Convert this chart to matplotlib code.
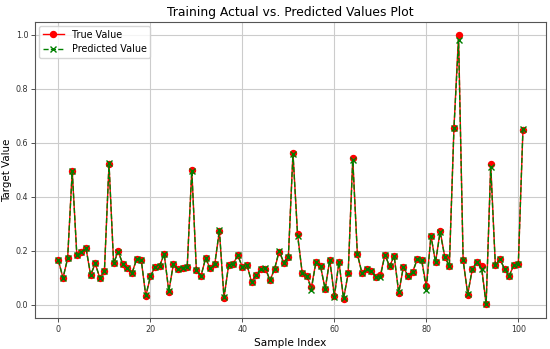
"""Training actual vs. predicted values line plot."""

import matplotlib
matplotlib.use("Agg")
import matplotlib.pyplot as plt

TRUE_VALUES = [
    0.164, 0.099, 0.172, 0.496, 0.185, 0.196, 0.210, 0.109, 0.153, 0.099,
    0.125, 0.520, 0.154, 0.198, 0.151, 0.135, 0.117, 0.170, 0.167, 0.031,
    0.105, 0.140, 0.144, 0.188, 0.049, 0.151, 0.131, 0.138, 0.140, 0.499,
    0.127, 0.107, 0.172, 0.135, 0.151, 0.273, 0.025, 0.146, 0.152, 0.183,
    0.140, 0.148, 0.084, 0.112, 0.131, 0.133, 0.090, 0.133, 0.196, 0.156,
    0.178, 0.562, 0.262, 0.119, 0.107, 0.065, 0.159, 0.142, 0.058, 0.167,
    0.033, 0.159, 0.021, 0.116, 0.544, 0.188, 0.117, 0.133, 0.126, 0.104,
    0.110, 0.186, 0.142, 0.181, 0.042, 0.140, 0.107, 0.120, 0.168, 0.164,
    0.069, 0.256, 0.157, 0.274, 0.178, 0.143, 0.654, 0.998, 0.165, 0.038,
    0.133, 0.159, 0.144, 0.001, 0.520, 0.148, 0.169, 0.133, 0.107, 0.146,
    0.151, 0.646,
]

PRED_VALUES = [
    0.164, 0.099, 0.172, 0.494, 0.185, 0.196, 0.210, 0.111, 0.153, 0.099,
    0.125, 0.524, 0.154, 0.196, 0.151, 0.135, 0.117, 0.168, 0.167, 0.035,
    0.105, 0.140, 0.144, 0.188, 0.051, 0.151, 0.131, 0.138, 0.140, 0.497,
    0.127, 0.107, 0.172, 0.135, 0.151, 0.278, 0.027, 0.146, 0.152, 0.183,
    0.140, 0.148, 0.084, 0.112, 0.131, 0.138, 0.090, 0.133, 0.201, 0.156,
    0.178, 0.560, 0.256, 0.119, 0.107, 0.056, 0.159, 0.142, 0.058, 0.167,
    0.029, 0.159, 0.024, 0.116, 0.535, 0.188, 0.117, 0.133, 0.126, 0.104,
    0.103, 0.186, 0.142, 0.181, 0.046, 0.140, 0.107, 0.120, 0.168, 0.164,
    0.056, 0.256, 0.157, 0.268, 0.178, 0.143, 0.654, 0.981, 0.165, 0.040,
    0.133, 0.159, 0.133, 0.004, 0.510, 0.148, 0.169, 0.133, 0.107, 0.146,
    0.151, 0.650,
]

SAMPLE_INDEX = list(range(len(TRUE_VALUES)))


def draw() -> None:
    fig = plt.figure(figsize=(5.5, 3.49), dpi=100)
    ax = fig.add_axes([0.064, 0.089, 0.929, 0.848])

    ax.plot(SAMPLE_INDEX, TRUE_VALUES, color="red", linestyle="-",
            marker="o", markersize=4.3, linewidth=1.0, label="True Value")
    ax.plot(SAMPLE_INDEX, PRED_VALUES, color="green", linestyle="--",
            marker="x", markersize=4, linewidth=1.0, label="Predicted Value")

    ax.set_title("Training Actual vs. Predicted Values Plot", fontsize=8.9,
                 pad=4)
    ax.set_xlabel("Sample Index", fontsize=7.6, labelpad=3)
    ax.set_ylabel("Target Value", fontsize=7.4, labelpad=2.5)
    ax.tick_params(labelsize=5.8, length=3, width=0.6, colors="#333", pad=2)
    ax.grid(True, color="#cccccc", linewidth=0.8)
    for spine in ax.spines.values():
        spine.set_color("#555555")
    ax.legend(loc="upper left", fontsize=6.9, framealpha=0.8,
              borderaxespad=0.4, handlelength=2.2)

    fig.savefig("out.png", dpi=100)


if __name__ == "__main__":
    draw()
